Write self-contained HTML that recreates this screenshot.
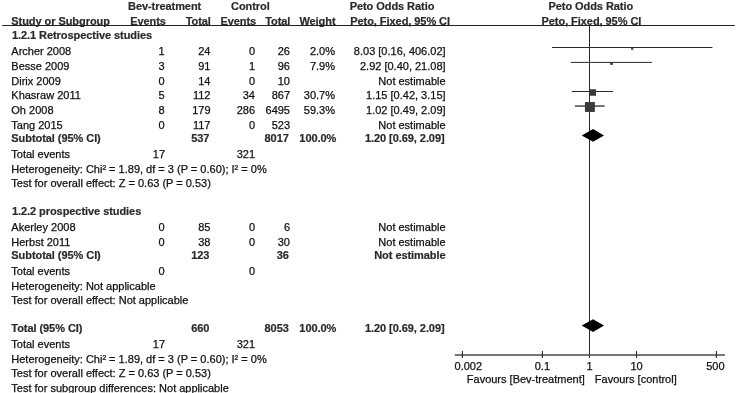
<!DOCTYPE html>
<html><head><meta charset="utf-8"><title>Forest plot</title>
<style>
html,body{margin:0;padding:0;background:#fff;}
body{width:736px;height:393px;overflow:hidden;position:relative;font-family:"Liberation Sans",Arial,sans-serif;font-size:11px;color:#222;}
svg{position:absolute;left:0;top:0;}
text{font-family:"Liberation Sans",Arial,sans-serif;font-size:11px;fill:#111;stroke:#111;stroke-width:0.25px;}
text.b{font-weight:bold;fill:#2b2b2b;stroke:#2b2b2b;stroke-width:0.2px;letter-spacing:-0.06px;}
text.r{text-anchor:end;}
text.c{text-anchor:middle;}
</style></head><body>
<svg width="736" height="393" viewBox="0 0 736 393">
<text x="128" y="9.8" class="b">Bev-treatment</text>
<text x="231" y="9.8" class="b">Control</text>
<text x="392" y="9.8" class="b c">Peto Odds Ratio</text>
<text x="590.8" y="9.8" class="b c">Peto Odds Ratio</text>
<text x="11.3" y="24.5" class="b">Study or Subgroup</text>
<text x="165.9" y="24.5" class="b r">Events</text>
<text x="210.8" y="24.5" class="b r">Total</text>
<text x="256.2" y="24.5" class="b r">Events</text>
<text x="290.3" y="24.5" class="b r">Total</text>
<text x="335.5" y="24.5" class="b r">Weight</text>
<text x="450" y="24.5" class="b r">Peto, Fixed, 95% CI</text>
<text x="591.4" y="24.5" class="b c">Peto, Fixed, 95% CI</text>
<text x="11.9" y="39.37" class="b">1.2.1 Retrospective studies</text>
<text x="11.3" y="55.45">Archer 2008</text>
<text x="164.5" y="55.45" class="r">1</text>
<text x="210.5" y="55.45" class="r">24</text>
<text x="255" y="55.45" class="r">0</text>
<text x="290" y="55.45" class="r">26</text>
<text x="335" y="55.45" class="r">2.0%</text>
<text x="445.6" y="55.45" class="r">8.03 [0.16, 406.02]</text>
<text x="11.3" y="70.085">Besse 2009</text>
<text x="164.5" y="70.085" class="r">3</text>
<text x="210.5" y="70.085" class="r">91</text>
<text x="255" y="70.085" class="r">1</text>
<text x="290" y="70.085" class="r">96</text>
<text x="335" y="70.085" class="r">7.9%</text>
<text x="445.6" y="70.085" class="r">2.92 [0.40, 21.08]</text>
<text x="11.3" y="84.72">Dirix 2009</text>
<text x="164.5" y="84.72" class="r">0</text>
<text x="210.5" y="84.72" class="r">14</text>
<text x="255" y="84.72" class="r">0</text>
<text x="290" y="84.72" class="r">10</text>
<text x="335" y="84.72" class="r"></text>
<text x="445.6" y="84.72" class="r">Not estimable</text>
<text x="11.3" y="99.355">Khasraw 2011</text>
<text x="164.5" y="99.355" class="r">5</text>
<text x="210.5" y="99.355" class="r">112</text>
<text x="255" y="99.355" class="r">34</text>
<text x="290" y="99.355" class="r">867</text>
<text x="335" y="99.355" class="r">30.7%</text>
<text x="445.6" y="99.355" class="r">1.15 [0.42, 3.15]</text>
<text x="11.3" y="113.99">Oh 2008</text>
<text x="164.5" y="113.99" class="r">8</text>
<text x="210.5" y="113.99" class="r">179</text>
<text x="255" y="113.99" class="r">286</text>
<text x="290" y="113.99" class="r">6495</text>
<text x="335" y="113.99" class="r">59.3%</text>
<text x="445.6" y="113.99" class="r">1.02 [0.49, 2.09]</text>
<text x="11.3" y="128.625">Tang 2015</text>
<text x="164.5" y="128.625" class="r">0</text>
<text x="210.5" y="128.625" class="r">117</text>
<text x="255" y="128.625" class="r">0</text>
<text x="290" y="128.625" class="r">523</text>
<text x="335" y="128.625" class="r"></text>
<text x="445.6" y="128.625" class="r">Not estimable</text>
<text x="11.3" y="141.76" class="b">Subtotal (95% CI)</text>
<text x="209.4" y="141.76" class="b r">537</text>
<text x="288.8" y="141.76" class="b r">8017</text>
<text x="336.3" y="141.76" class="b r">100.0%</text>
<text x="444.6" y="141.76" class="b r">1.20 [0.69, 2.09]</text>
<text x="11.3" y="157.89">Total events</text>
<text x="165.1" y="157.89" class="r">17</text>
<text x="255" y="157.89" class="r">321</text>
<text x="11.3" y="172.53">Heterogeneity: Chi² = 1.89, df = 3 (P = 0.60); I² = 0%</text>
<text x="11.3" y="187.17">Test for overall effect: Z = 0.63 (P = 0.53)</text>
<text x="11.9" y="214.94" class="b">1.2.2 prospective studies</text>
<text x="11.3" y="231.07">Akerley 2008</text>
<text x="164.5" y="231.07" class="r">0</text>
<text x="210.5" y="231.07" class="r">85</text>
<text x="255" y="231.07" class="r">0</text>
<text x="290" y="231.07" class="r">6</text>
<text x="445.6" y="231.07" class="r">Not estimable</text>
<text x="11.3" y="245.705">Herbst 2011</text>
<text x="164.5" y="245.705" class="r">0</text>
<text x="210.5" y="245.705" class="r">38</text>
<text x="255" y="245.705" class="r">0</text>
<text x="290" y="245.705" class="r">30</text>
<text x="445.6" y="245.705" class="r">Not estimable</text>
<text x="11.3" y="258.84" class="b">Subtotal (95% CI)</text>
<text x="209.4" y="258.84" class="b r">123</text>
<text x="288.8" y="258.84" class="b r">36</text>
<text x="445.6" y="258.84" class="b r">Not estimable</text>
<text x="11.3" y="274.98">Total events</text>
<text x="164.5" y="274.98" class="r">0</text>
<text x="255" y="274.98" class="r">0</text>
<text x="11.3" y="289.61">Heterogeneity: Not applicable</text>
<text x="11.3" y="304.25">Test for overall effect: Not applicable</text>
<text x="11.3" y="332.01" class="b">Total (95% CI)</text>
<text x="209.4" y="332.01" class="b r">660</text>
<text x="288.8" y="332.01" class="b r">8053</text>
<text x="336.3" y="332.01" class="b r">100.0%</text>
<text x="444.6" y="332.01" class="b r">1.20 [0.69, 2.09]</text>
<text x="11.3" y="348.15">Total events</text>
<text x="165.1" y="348.15" class="r">17</text>
<text x="255" y="348.15" class="r">321</text>
<text x="11.3" y="362.78">Heterogeneity: Chi² = 1.89, df = 3 (P = 0.60); I² = 0%</text>
<text x="11.3" y="377.42">Test for overall effect: Z = 0.63 (P = 0.53)</text>
<text x="11.3" y="392.06">Test for subgroup differences: Not applicable</text>
<text x="468.3" y="370" class="c">0.002</text>
<text x="542.4" y="370" class="c">0.1</text>
<text x="589.6" y="370" class="c">1</text>
<text x="636.5" y="370" class="c">10</text>
<text x="715.4" y="370" class="c">500</text>
<text x="584.8" y="383.1" class="r">Favours [Bev-treatment]</text>
<text x="594.8" y="383.1">Favours [control]</text>
<line x1="2.2" y1="25.5" x2="734.8" y2="25.5" stroke="#222" stroke-width="1"/>
<line x1="589.5" y1="25.5" x2="589.5" y2="358" stroke="#2a2a2a" stroke-width="1"/>
<line x1="454.7" y1="355" x2="725" y2="355" stroke="#4a4a4a" stroke-width="1.5"/>
<line x1="462.4" y1="351.1" x2="462.4" y2="358.1" stroke="#2a2a2a" stroke-width="1.1"/>
<line x1="542.4" y1="351.1" x2="542.4" y2="358.1" stroke="#2a2a2a" stroke-width="1.1"/>
<line x1="636.5" y1="351.1" x2="636.5" y2="358.1" stroke="#2a2a2a" stroke-width="1.1"/>
<line x1="716.4" y1="351.1" x2="716.4" y2="358.1" stroke="#2a2a2a" stroke-width="1.1"/>
<line x1="552.0" y1="47.5" x2="712.4" y2="47.5" stroke="#2a2a2a" stroke-width="1"/>
<rect x="631.15" y="47.65" width="2.1" height="2.1" fill="#3a3a3a"/>
<line x1="570.8" y1="62.4" x2="651.9" y2="62.4" stroke="#2a2a2a" stroke-width="1"/>
<rect x="610.15" y="62.15" width="2.7" height="2.7" fill="#3a3a3a"/>
<line x1="571.8" y1="91.5" x2="613.0" y2="91.5" stroke="#2a2a2a" stroke-width="1"/>
<rect x="589.50" y="89.25" width="6.5" height="6.5" fill="#3a3a3a"/>
<line x1="574.9" y1="106.05" x2="604.6" y2="106.05" stroke="#2a2a2a" stroke-width="1.3"/>
<rect x="584.95" y="102.05" width="9.9" height="9.9" fill="#3a3a3a"/>
<polygon points="581.7,135.4 593.1,129 604.0,135.4 593.1,141.8" fill="#000"/>
<polygon points="581.7,325.6 593.1,319.2 604.0,325.6 593.1,332" fill="#000"/>
</svg></body></html>
